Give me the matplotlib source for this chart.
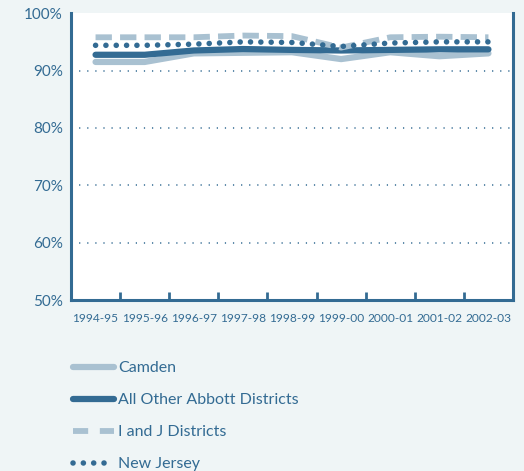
import matplotlib.pyplot as plt
from matplotlib.lines import Line2D

years = ['1994-95', '1995-96', '1996-97', '1997-98', '1998-99',
         '1999-00', '2000-01', '2001-02', '2002-03']
camden = [91.5, 91.5, 93.0, 93.1, 93.2, 92.0, 93.2, 92.5, 93.0]
abbott = [92.75, 92.75, 93.5, 93.75, 93.6, 93.5, 93.6, 93.7, 93.7]
i_and_j = [95.8, 95.8, 95.8, 96.1, 96.0, 94.0, 95.8, 95.9, 95.8]
new_jersey = [94.4, 94.4, 94.6, 95.0, 94.9, 94.2, 94.8, 95.0, 95.0]

dark = '#336b93'
light = '#a9c1d1'
bg = '#eff5f6'

plt.rcParams['font.family'] = ['Lato', 'DejaVu Sans']

fig = plt.figure(figsize=(5.24, 4.71), dpi=100, facecolor=bg)
ax = fig.add_axes([0.1355, 0.363, 0.8435, 0.609])
ax.set_facecolor('white')

x = range(len(years))
ax.plot(x, camden, color=light, lw=4.5, solid_capstyle='round', solid_joinstyle='round', label='Camden')
ax.plot(x, abbott, color=dark, lw=4.5, solid_capstyle='round', solid_joinstyle='round',
        label='All Other Abbott Districts')
ax.plot(x, i_and_j, color=light, lw=4.2, linestyle=(0, (2.8, 1.4)), dash_capstyle='butt',
        label='I and J Districts')
ax.plot(x, new_jersey, color=dark, lw=4.0, linestyle=(0, (0.01, 1.85)), dash_capstyle='round',
        label='New Jersey')

ax.set_xlim(-0.5, len(years) - 0.5)
ax.set_ylim(50, 100)
ax.set_yticks([50, 60, 70, 80, 90, 100])
ax.set_yticklabels(['50%', '60%', '70%', '80%', '90%', '100%'], fontsize=11, color=dark)
ax.tick_params(axis='y', length=0, pad=6)

ax.set_xticks([i + 0.5 for i in range(-1, len(years))])
ax.set_xticklabels([])
ax.set_xticks(list(x), minor=True)
ax.set_xticklabels(years, minor=True, fontsize=8.6, color=dark)
ax.tick_params(axis='x', which='major', direction='in', length=6, width=2, color=dark)
ax.tick_params(axis='x', which='minor', length=0, pad=9)

for g in [60, 70, 80, 90]:
    ax.axhline(g, color=dark, lw=1.1, linestyle=(0, (0.8, 4.5)), zorder=0.5)

for s in ['left', 'bottom', 'right']:
    ax.spines[s].set_color(dark)
    ax.spines[s].set_linewidth(2.2)
ax.spines['top'].set_visible(False)

handles = [
    Line2D([], [], color=light, lw=4.5, solid_capstyle='round'),
    Line2D([], [], color=dark, lw=4.5, solid_capstyle='round'),
    Line2D([], [], color=light, lw=4.2, linestyle=(0, (2.6, 2.0)), dash_capstyle='butt'),
    Line2D([], [], color=dark, lw=4.0, linestyle=(0, (0.01, 1.85)), dash_capstyle='round'),
]
labels = ['Camden', 'All Other Abbott Districts', 'I and J Districts', 'New Jersey']
leg = fig.legend(handles, labels, loc='upper left', bbox_to_anchor=(0.128, 0.247),
                 frameon=False, fontsize=11.5, handlelength=2.55, handletextpad=0.25,
                 labelspacing=1.12, borderaxespad=0)
for t in leg.get_texts():
    t.set_color(dark)

fig.savefig('out.png', dpi=100, facecolor=bg)
